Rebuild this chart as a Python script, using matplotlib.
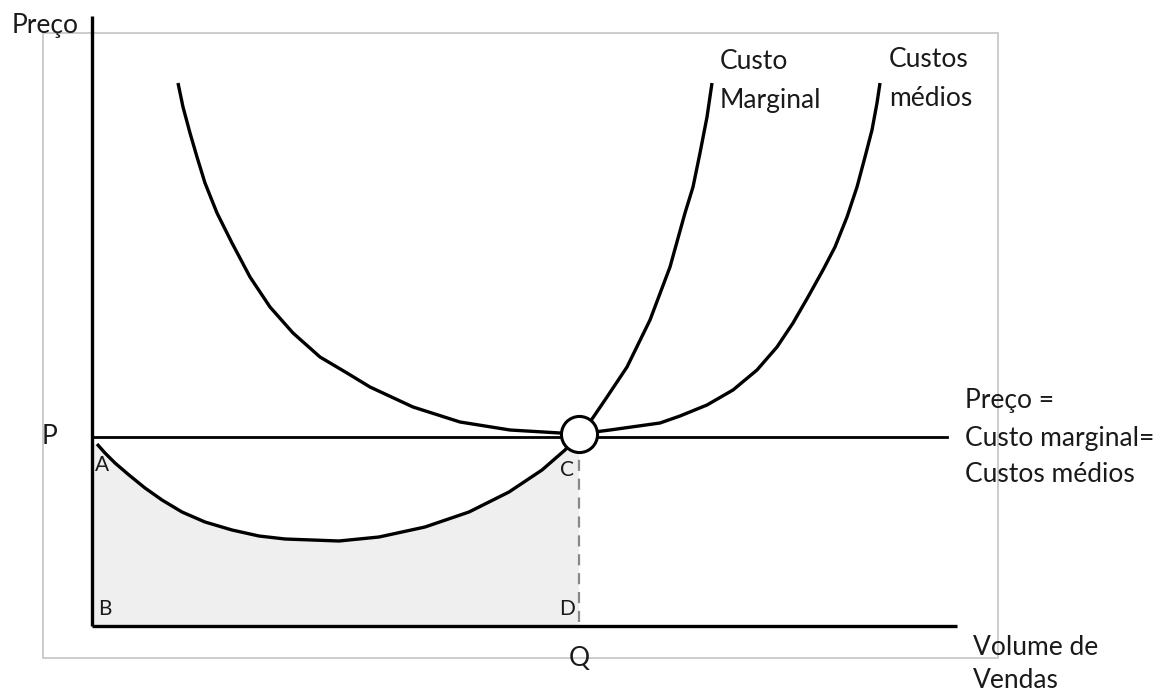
import matplotlib
matplotlib.use("Agg")
import matplotlib.pyplot as plt
from matplotlib.patches import Rectangle

plt.rcParams['font.family'] = ['Lato', 'DejaVu Sans']

# curves (quantity, price)
mc_q = [5, 13, 23, 37, 53, 70, 90, 113, 140, 167, 193, 220, 247, 287, 333,
        377, 417, 450, 473, 487, 498, 515, 535, 558, 578, 593, 601, 608, 615, 620]
mc_p = [182, 173, 163, 151, 138, 126, 114, 104, 96, 90, 87, 86, 85, 89, 99,
        114, 134, 156, 176, 192, 204, 229, 259, 306, 359, 413, 439, 473, 509, 543]

ac_q = [86, 91, 98, 105, 113, 125, 140, 158, 178, 201, 228, 255, 278, 321, 368,
        418, 468, 487, 518, 568, 588, 615, 641, 665, 685, 701, 716, 731, 743,
        755, 765, 773, 780, 785, 788]
ac_p = [543, 519, 493, 469, 443, 413, 383, 349, 319, 293, 269, 253, 239, 219,
        204, 196, 193, 192, 196, 203, 210, 221, 236, 256, 279, 303, 329, 356,
        379, 409, 439, 469, 496, 523, 543]

price = 189
qty = 487
eq_p = 192

fig = plt.figure(figsize=(11.71, 6.93), dpi=100)
ax = fig.add_axes([0, 0, 1, 1])
ax.set_xlim(-92, 1079)
ax.set_ylim(-67, 626)
ax.axis("off")

txt = "#1a1a1a"

# outer gray frame
ax.add_patch(Rectangle((-49, -32), 955, 625, fill=False, ec="#c4c4c4", lw=1.2))

# shaded area under marginal cost up to Q
n = mc_q.index(qty) + 1
fill_q = [0, 0] + mc_q[:n] + [qty]
fill_p = [0, mc_p[0]] + mc_p[:n] + [0]
ax.fill(fill_q, fill_p, color="#efefef", lw=0, zorder=1)

# axes
ax.plot([0, 0], [0, 610], color="black", lw=2.4, solid_capstyle="butt", zorder=3)
ax.plot([0, 865], [0, 0], color="black", lw=2.4, solid_capstyle="butt", zorder=3)

# price line
ax.plot([0, 855], [price, price], color="black", lw=2.0, zorder=3)

# dashed drop line at Q
ax.plot([qty, qty], [4, price - 14], color="#888888", lw=1.6,
        dashes=(5, 3.5), zorder=2)

# cost curves
for q, p in [(mc_q, mc_p), (ac_q, ac_p)]:
    ax.plot(q, p, color="black", lw=2.4, solid_capstyle="butt",
            solid_joinstyle="round", zorder=4)

# equilibrium marker
ax.plot([qty], [eq_p], "o", ms=26, mfc="white", mec="black", mew=2.2, zorder=5)

big = 19
ax.text(-80, 593, "Preço", fontsize=big, color=txt, va="baseline")
ax.text(628, 557, "Custo", fontsize=big, color=txt, va="baseline")
ax.text(628, 518, "Marginal", fontsize=big, color=txt, va="baseline")
ax.text(797, 559, "Custos", fontsize=big, color=txt, va="baseline")
ax.text(797, 520, "médios", fontsize=big, color=txt, va="baseline")
ax.text(-50, price, "P", fontsize=big, color=txt, va="center")
ax.text(873, 218, "Preço =", fontsize=big, color=txt, va="baseline")
ax.text(873, 180, "Custo marginal=", fontsize=big, color=txt, va="baseline")
ax.text(873, 144, "Custos médios", fontsize=big, color=txt, va="baseline")
ax.text(881, -29, "Volume de", fontsize=big, color=txt, va="baseline")
ax.text(881, -62, "Vendas", fontsize=big, color=txt, va="baseline")
ax.text(qty, -32, "Q", fontsize=big, color=txt, ha="center", va="center")

small = 15
ax.text(3, 161, "A", fontsize=small, color=txt, va="center")
ax.text(6, 17, "B", fontsize=small, color=txt, va="center")
ax.text(468, 156, "C", fontsize=small, color=txt, va="center")
ax.text(467, 17, "D", fontsize=small, color=txt, va="center")

fig.savefig("out.png", dpi=100, facecolor="white")
